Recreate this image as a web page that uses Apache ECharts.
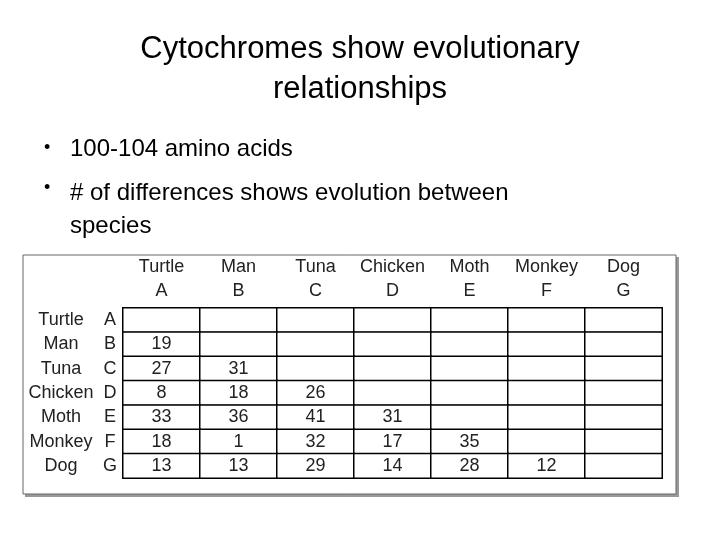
<!DOCTYPE html>
<html><head><meta charset="utf-8">
<script src="https://cdn.jsdelivr.net/npm/echarts@6/dist/echarts.min.js"></script>
<style>html,body{margin:0;padding:0;background:#fff}#c{width:720px;height:540px}</style>
</head><body><div id="c"></div>
<script>
const names = ["Turtle","Man","Tuna","Chicken","Moth","Monkey","Dog"];
const letters = ["A","B","C","D","E","F","G"];
// rows: species, columns: species (lower triangle)
const row_A = [null,null,null,null,null,null,null];
const row_B = [19,null,null,null,null,null,null];
const row_C = [27,31,null,null,null,null,null];
const row_D = [8,18,26,null,null,null,null];
const row_E = [33,36,41,31,null,null,null];
const row_F = [18,1,32,17,35,null,null];
const row_G = [13,13,29,14,28,12,null];
const rows = [row_A,row_B,row_C,row_D,row_E,row_F,row_G];

const data = [];
rows.forEach((r,y)=>r.forEach((v,x)=>data.push({value:[x,y,v==null?-1:v]})));

const F = "'Liberation Sans', Arial, sans-serif";
const chart = echarts.init(document.getElementById('c'));
chart.setOption({
  animation:false,
  title:{text:"Cytochromes show evolutionary\nrelationships",left:'center',top:24,
    textStyle:{fontFamily:F,fontSize:31,fontWeight:'normal',color:'#000',lineHeight:40}},
  graphic:[
    {type:'rect',shape:{x:25,y:257,width:654,height:240},style:{fill:'#999'},z:-2},
    {type:'rect',shape:{x:23,y:255,width:653,height:239},style:{fill:'#fff',stroke:'#666',lineWidth:1},z:-1},
    {type:'text',left:44,top:139,style:{text:"•",font:"18px "+F,fill:'#000'}},
    {type:'text',left:70,top:137,style:{text:"100-104 amino acids",font:"24px "+F,fill:'#000'}},
    {type:'text',left:44,top:179,style:{text:"•",font:"18px "+F,fill:'#000'}},
    {type:'text',left:70,top:177,style:{text:"# of differences shows evolution between\nspecies",font:"24px "+F,fill:'#000',lineHeight:33}}
  ],
  grid:{left:123,top:308,width:539,height:170},
  xAxis:{type:'category',data:names,position:'top',axisLine:{show:false},axisTick:{show:false},splitLine:{show:false},
    axisLabel:{interval:0,margin:5,fontFamily:F,fontSize:18,color:'#222',lineHeight:24,
      formatter:(v,i)=>v+"\n"+letters[i]}},
  yAxis:{type:'category',data:names,inverse:true,axisLine:{show:false},axisTick:{show:false},splitLine:{show:false},
    axisLabel:{interval:0,margin:4,fontFamily:F,fontSize:18,color:'#222',
      formatter:(v,i)=>"{n|"+v+"}{l|"+letters[i]+"}",
      rich:{n:{width:80,align:'center',fontFamily:F,fontSize:18,color:'#222'},l:{width:18,align:'center',fontFamily:F,fontSize:18,color:'#222'}}}},
  series:[{type:'heatmap',data:data,
    itemStyle:{color:'#fff',borderColor:'#000',borderWidth:1.5},
    label:{show:true,fontFamily:F,fontSize:18,color:'#222',formatter:p=>p.value[2]<0?'':String(p.value[2])},
    emphasis:{disabled:true}}]
});
</script></body></html>
